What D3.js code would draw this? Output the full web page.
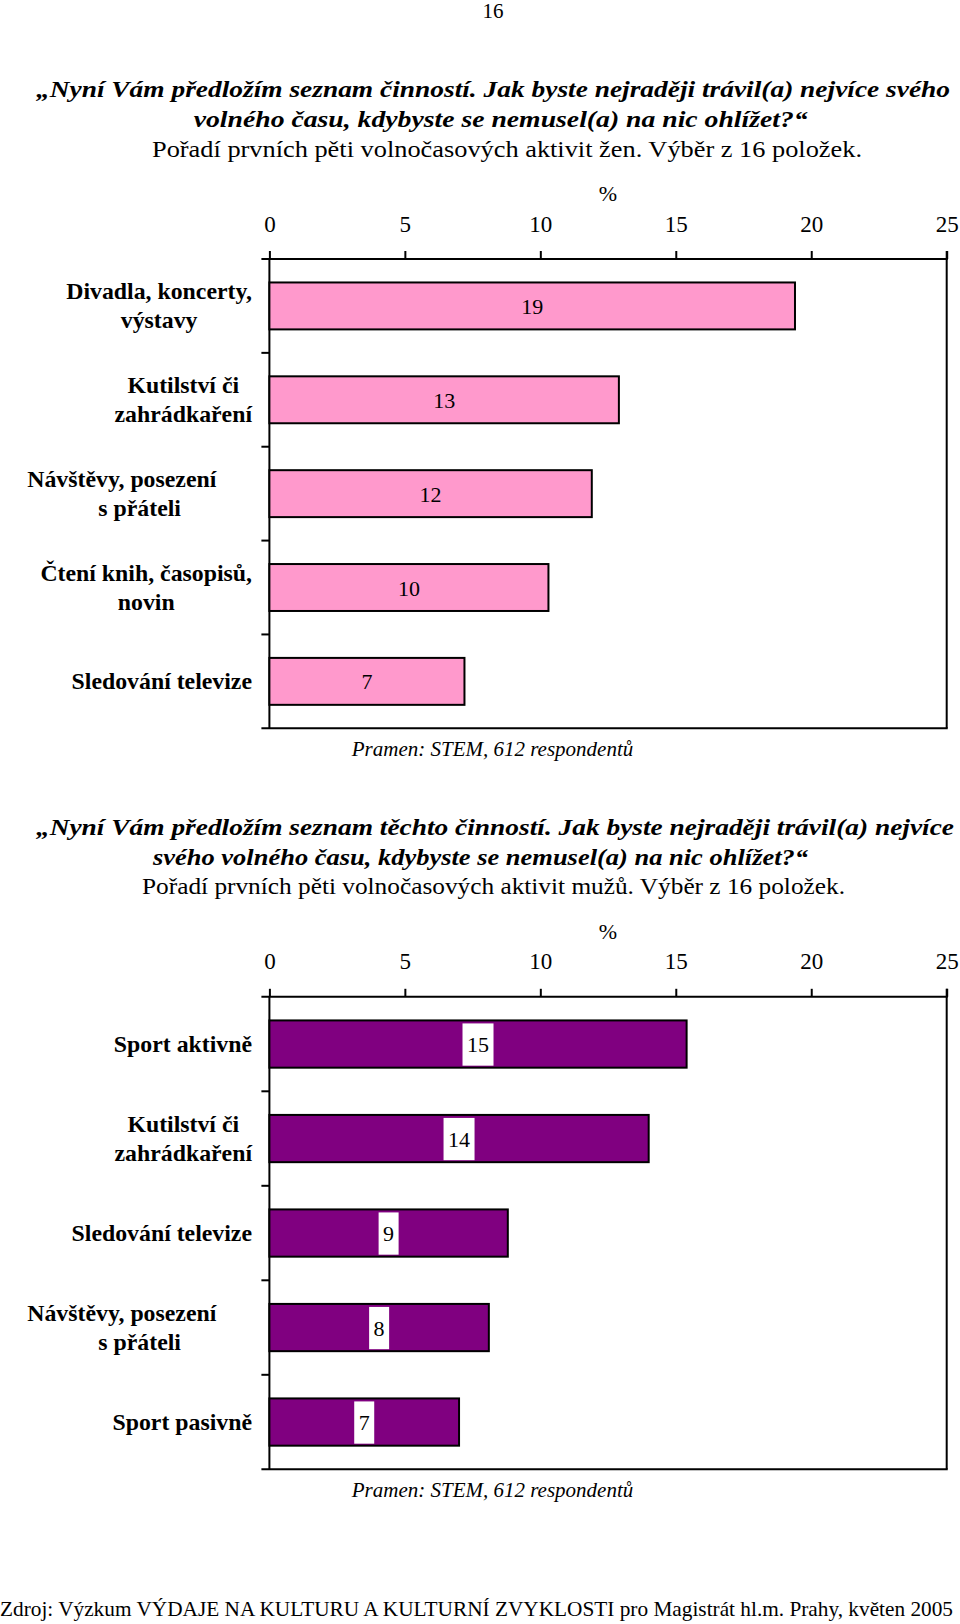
<!DOCTYPE html>
<html><head><meta charset="utf-8">
<script src="https://cdn.jsdelivr.net/npm/d3@7"></script>
<style>
body{margin:0;background:#fff}
svg{display:block}
text{font-family:"Liberation Serif","Times New Roman",serif;fill:#000}
</style>
</head><body>
<svg id="c" width="960" height="1624"></svg>
<script>
// ---- data ----
const tickValues = [0, 5, 10, 15, 20, 25];
const womenCategories = [
  ["Divadla, koncerty,", "výstavy"],
  ["Kutilství či", "zahrádkaření"],
  ["Návštěvy, posezení\u00a0\u00a0\u00a0\u00a0\u00a0\u00a0", "s přáteli"],
  ["Čtení knih, časopisů,", "novin"],
  ["Sledování televize"]
];
const womenValues = [19.4, 12.9, 11.9, 10.3, 7.2];
const womenLabels = ["19", "13", "12", "10", "7"];
const menCategories = [
  ["Sport aktivně"],
  ["Kutilství či", "zahrádkaření"],
  ["Sledování televize"],
  ["Návštěvy, posezení\u00a0\u00a0\u00a0\u00a0\u00a0\u00a0", "s přáteli"],
  ["Sport pasivně"]
];
const menValues = [15.4, 14.0, 8.8, 8.1, 7.0];
const menLabels = ["15", "14", "9", "8", "7"];

const pageNumber = "16";
const womenTitle = [
  "„Nyní Vám předložím seznam činností. Jak byste nejraději trávil(a) nejvíce svého",
  "volného času, kdybyste se nemusel(a) na nic ohlížet?“",
  "Pořadí prvních pěti volnočasových aktivit žen. Výběr z 16 položek."
];
const menTitle = [
  "„Nyní Vám předložím seznam těchto činností. Jak byste nejraději trávil(a) nejvíce",
  "svého volného času, kdybyste se nemusel(a) na nic ohlížet?“",
  "Pořadí prvních pěti volnočasových aktivit mužů. Výběr z 16 položek."
];
const unitLabel = "%";
const sourceNote = "Pramen: STEM, 612 respondentů";
const footer = "Zdroj: Výzkum VÝDAJE NA KULTURU A KULTURNÍ ZVYKLOSTI pro Magistrát hl.m. Prahy, květen 2005";

// ---- drawing ----
const svg = d3.select("#c");

svg.append("text").attr("x", 493).attr("y", 18).attr("text-anchor", "middle")
  .style("font-size", "21px").text(pageNumber);

function titleBlock(lines, ys, xs, widths) {
  lines.forEach((t, i) => {
    svg.append("text").attr("x", xs[i]).attr("y", ys[i]).attr("text-anchor", "middle")
      .attr("textLength", widths[i]).attr("lengthAdjust", "spacingAndGlyphs")
      .style("font-size", "23px")
      .style("font-weight", i < 2 ? "bold" : "normal")
      .style("font-style", i < 2 ? "italic" : "normal")
      .text(t);
  });
}

titleBlock(womenTitle, [97, 127, 157], [493, 500.7, 507], [914, 614, 710]);
titleBlock(menTitle, [835, 865, 894], [495, 480.5, 493.5], [918, 655, 703]);

function drawChart(cfg) {
  const x = d3.scaleLinear().domain([0, 25]).range([269.4, 946.7]);
  const keys = cfg.categories.map(c => c.join(" "));
  const y = d3.scaleBand().domain(keys).range([cfg.top, cfg.bottom])
    .paddingInner(0.5).paddingOuter(0.25);
  const g = svg.append("g");

  g.append("text").attr("x", 608).attr("y", cfg.top - 58).attr("text-anchor", "middle")
    .style("font-size", "22px").text(unitLabel);

  const axis = d3.axisTop(x).tickValues(tickValues).tickSize(8).tickPadding(19.5)
    .tickSizeOuter(0).tickFormat(d3.format("d"));
  const ag = g.append("g").attr("transform", `translate(0,${cfg.top})`).call(axis);
  ag.select(".domain").remove();
  ag.selectAll(".tick line").attr("stroke", "#000").attr("stroke-width", 2);
  ag.selectAll(".tick text").style("font-size", "23px").style("font-family", "Liberation Serif").attr("fill", "#000");

  const x0 = x.range()[0], x1 = x.range()[1];
  const lineAttrs = s => s.attr("stroke", "#000").attr("stroke-width", 2);
  g.append("line").attr("x1", x0 - 8).attr("x2", x1 + 1).attr("y1", cfg.top).attr("y2", cfg.top).call(lineAttrs);
  g.append("line").attr("x1", x0 - 8).attr("x2", x1 + 1).attr("y1", cfg.bottom).attr("y2", cfg.bottom).call(lineAttrs);
  g.append("line").attr("x1", x0).attr("x2", x0).attr("y1", cfg.top).attr("y2", cfg.bottom).call(lineAttrs);
  g.append("line").attr("x1", x1).attr("x2", x1).attr("y1", cfg.top - 8).attr("y2", cfg.bottom).call(lineAttrs);

  const gap = (y.step() - y.bandwidth()) / 2;
  keys.slice(1).forEach(k => {
    const yy = y(k) - gap;
    g.append("line").attr("x1", x0 - 8).attr("x2", x0).attr("y1", yy).attr("y2", yy).call(lineAttrs);
  });

  g.selectAll("rect.bar").data(cfg.values).join("rect").attr("class", "bar")
    .attr("x", x(0)).attr("y", (d, i) => y(keys[i]))
    .attr("width", d => x(d) - x(0)).attr("height", y.bandwidth())
    .attr("fill", cfg.fill).attr("stroke", "#000").attr("stroke-width", 2);

  cfg.values.forEach((v, i) => {
    const cx = x(v / 2), cy = y(keys[i]) + y.bandwidth() / 2;
    const t = g.append("text").attr("x", cx).attr("y", cy + 8).attr("text-anchor", "middle")
      .style("font-size", "22px").text(cfg.labels[i]);
    if (cfg.boxed) {
      const w = t.node().getComputedTextLength() + 9;
      g.insert("rect", () => t.node()).attr("x", cx - w / 2).attr("y", y(keys[i]) + 3)
        .attr("width", w).attr("height", y.bandwidth() - 5).attr("fill", "#fff");
    }
  });

  const rightEdge = 252;
  cfg.categories.forEach((lines, i) => {
    const cy = y(keys[i]) + y.bandwidth() / 2;
    const lh = 29;
    const texts = lines.map((ln, j) => g.append("text")
      .attr("y", cy + 8 + (j - (lines.length - 1) / 2) * lh)
      .attr("text-anchor", "middle")
      .style("font-size", "23.8px").style("font-weight", "bold").text(ln));
    const maxW = d3.max(texts, t => t.node().getComputedTextLength());
    texts.forEach(t => t.attr("x", rightEdge - maxW / 2));
  });

  g.append("text").attr("x", 492.5).attr("y", cfg.bottom + 28).attr("text-anchor", "middle")
    .style("font-size", "21px").style("font-style", "italic").text(sourceNote);
}

drawChart({categories: womenCategories, values: womenValues, labels: womenLabels,
  top: 259, bottom: 728.3, fill: "#FF99CC", boxed: false});
drawChart({categories: menCategories, values: menValues, labels: menLabels,
  top: 996.8, bottom: 1469.3, fill: "#800080", boxed: true});

svg.append("text").attr("x", 0).attr("y", 1616).attr("textLength", 953)
  .attr("lengthAdjust", "spacingAndGlyphs").style("font-size", "21px").text(footer);
</script>
</body></html>
